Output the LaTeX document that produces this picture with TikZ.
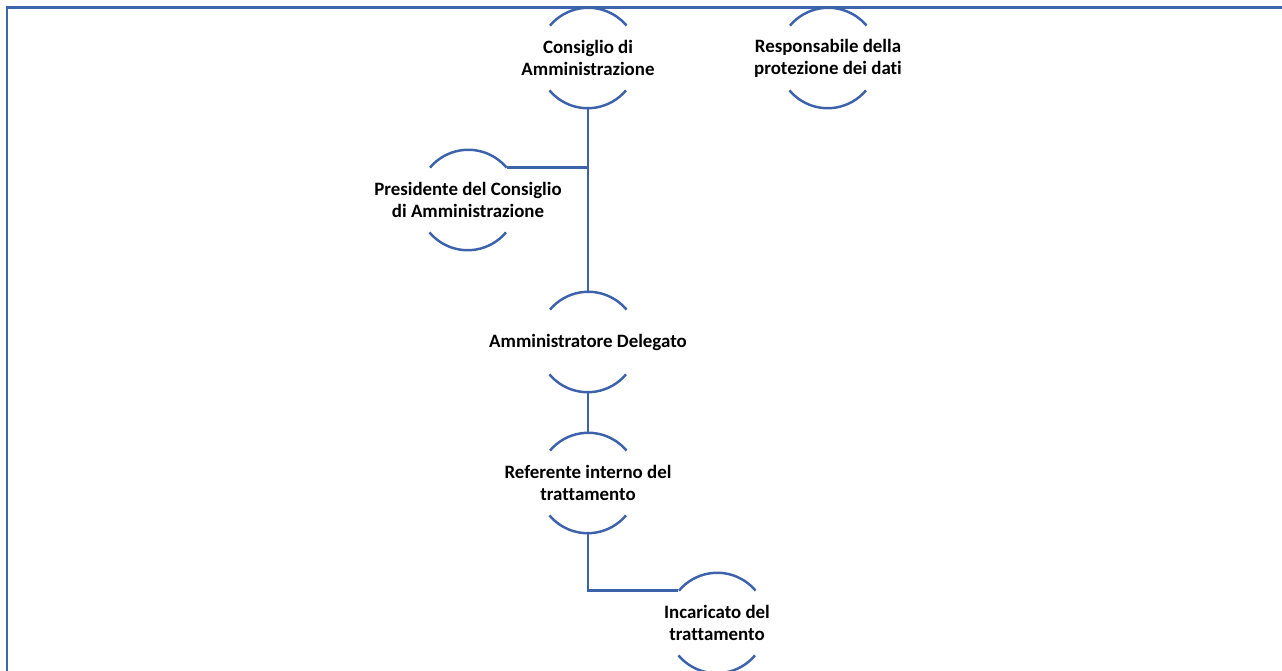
\documentclass[tikz,border=0pt]{standalone}
\usepackage{fontspec}
\setmainfont{Carlito}[Ligatures=NoCommon]
\usepackage{xcolor}
\usepackage{tikz}
\usetikzlibrary{positioning,calc}
\definecolor{OrgBlue}{RGB}{59, 98, 170}
\definecolor{FrameBlue}{RGB}{62, 100, 172}
\tikzstyle{ring} = [circle, minimum size=2cm, inner sep=0pt, draw=none]
\tikzstyle{txt} = [align=center, text=black, font=\fontsize{10.75}{12.5}\selectfont\bfseries]
\tikzstyle{arcline} = [draw=OrgBlue, line width=1.4pt]
\tikzstyle{link} = [draw=OrgBlue, line width=1.4pt]
\tikzstyle{frame} = [draw=FrameBlue, line width=1.7pt]

\begin{document}
\begin{tikzpicture}[x=0.02cm, y=-0.02cm]

\useasboundingbox (0,0) rectangle (1282,671);
\clip (0,0) rectangle (1282,671);

% Cornice
\draw [frame] (7,700) |- (1300,8);

% Vertice
\node (cda) [ring, label={[txt]center:Consiglio di\\Amministrazione}] at (588,58) {};
\node (rpd) [ring, label={[txt]center:Responsabile della\\protezione dei dati}] at (828,58) {};

% Presidenza
\node (pres) [ring, label={[txt]center:Presidente del Consiglio\\di Amministrazione}] at (468,200) {};

% Gestione
\node (ad) [ring, label={[txt]center:Amministratore Delegato}] at (588,342) {};
\node (ref) [ring, label={[txt]center:Referente interno del\\trattamento}] at (588,483) {};
\node (inc) [ring, label={[txt]center:Incaricato del\\trattamento}] at (717,623) {};

% Archi
\foreach \n in {cda,rpd,pres,ad,ref,inc} {
  \draw [arcline] (\n.40) arc[start angle=40, end angle=140, radius=1cm];
  \draw [arcline] (\n.220) arc[start angle=220, end angle=320, radius=1cm];
}

% Collegamenti
\draw [link] (cda.south) -- (ad.north);
\draw [link] (pres.40) -- (pres.40 -| cda.south);
\draw [link] (ad.south) -- (ref.north);
\draw [link] (ref.south) |- (inc.140);

\end{tikzpicture}
\end{document}
